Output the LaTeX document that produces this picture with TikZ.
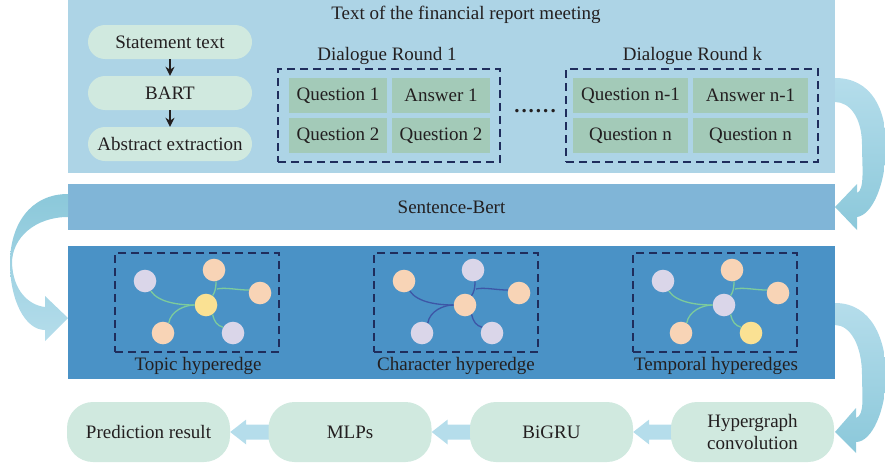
\documentclass[tikz,border=0pt]{standalone}
\usepackage{fontspec}
\setmainfont{Liberation Serif}
\usetikzlibrary{arrows.meta,calc}
\pgfdeclarelayer{bg}
\pgfsetlayers{bg,main}
\definecolor{panelc}{HTML}{ADD4E6}
\definecolor{pillc}{HTML}{D0E9DF}
\definecolor{cellc}{HTML}{A3CAB8}
\definecolor{sbc}{HTML}{80B5D7}
\definecolor{hpc}{HTML}{4A92C6}
\definecolor{dashc}{HTML}{1F2D5C}
\definecolor{purp}{HTML}{DAD6E9}
\definecolor{oran}{HTML}{F8D4B6}
\definecolor{yell}{HTML}{FAE193}
\definecolor{gedge}{HTML}{7DCB9C}
\definecolor{bedge}{HTML}{3D56A6}
\definecolor{arrl}{HTML}{B5DDEB}
\definecolor{arrd}{HTML}{8BC8DA}
\definecolor{txt}{HTML}{231F20}
\newcommand\hgcluster[9]{%
 \begin{scope}[xshift=#1pt]
 \node[vtx,fill=#3] (#2a) at (145,281) {};
 \node[vtx,fill=#4] (#2b) at (214,270) {};
 \node[vtx,fill=#5] (#2c) at (260,293) {};
 \node[vtx,fill=#6] (#2m) at (206,305) {};
 \node[vtx,fill=#7] (#2d) at (163,333) {};
 \node[vtx,fill=#8] (#2e) at (233,333) {};
 \coordinate (#2j) at (217,289);
 \draw[hedge,draw=#9] (#2a.-60) .. controls +(8,12) and +(-14,0) .. (#2m.west);
 \draw[hedge,draw=#9] (#2d.60) .. controls +(2,-12) and +(-10,0) .. (#2m.west);
 \draw[hedge,draw=#9] (#2b.-80) .. controls +(0,8) and +(2,-3) .. (#2m.55);
 \draw[hedge,draw=#9] (#2j) .. controls +(8,-2) and +(-12,0) .. (#2c.165);
 \draw[hedge,draw=#9] (#2m.-55) .. controls +(2,8) and +(-6,-2) .. (#2e.150);
 \end{scope}}
\newcommand\blockarr[2]{%
 \fill[arrl] (#1.east) -- ([shift={(16,-12.5)}]#1.east) -- ([shift={(16,-7.5)}]#1.east)
   -- ([shift={(3,-7.5)}]#2.west) -- ([shift={(3,7.5)}]#2.west)
   -- ([shift={(16,7.5)}]#1.east) -- ([shift={(16,12.5)}]#1.east) -- cycle;}
\begin{document}
\begin{tikzpicture}[x=1pt,y=-1pt,
  font=\fontsize{19}{22}\selectfont, text=txt,
  wide/.style={minimum width=767pt, inner sep=0},
  pill/.style={fill=pillc, rounded corners=17pt, minimum width=164pt, minimum height=34pt, inner sep=0},
  cell/.style={fill=cellc, minimum height=35pt, inner sep=0},
  dbox/.style={draw=dashc, line width=1.6pt, dash pattern=on 8pt off 5pt, inner sep=0},
  vtx/.style={circle, minimum size=22.6pt, inner sep=0},
  hedge/.style={line width=1.3pt},
  smallarr/.style={line width=1.4pt, draw=txt, -{Stealth[length=9pt,width=9pt]}},
  bpill/.style={fill=pillc, rounded corners=26pt, minimum width=163pt, minimum height=60pt, inner sep=0, align=center}]
\useasboundingbox (0,0) rectangle (885,463);
% panels
\node[wide, fill=panelc, minimum height=173pt] (top) at (451.5,86.5) {};
\node[wide, fill=sbc, minimum height=46pt] (sb) at (451.5,207) {Sentence-Bert};
\node[wide, fill=hpc, minimum height=133pt] (hp) at (451.5,312.5) {};
% top panel content
\node (title) at (466,15) {Text of the financial report meeting};
\node[pill] (st) at (170,42) {Statement text};
\node[pill] (bart) at (170,93) {BART};
\node[pill] (abs) at (170,144) {Abstract extraction};
\draw[smallarr] (st.south) -- (bart.north);
\draw[smallarr] (bart.south) -- (abs.north);
\node (dr1) at (387,56) {Dialogue Round 1};
\node (drk) at (692.5,56) {Dialogue Round k};
\node[dbox, minimum width=222pt, minimum height=93pt] (d1) at (389,115.5) {};
\node[dbox, minimum width=252pt, minimum height=93pt] (dk) at (692,115.5) {};
\node[cell, minimum width=98pt] (q1) at (338,95.5) {Question 1};
\node[cell, minimum width=98pt] (a1) at (441,95.5) {Answer 1};
\node[cell, minimum width=98pt] (q2) at (338,135.5) {Question 2};
\node[cell, minimum width=98pt] (q2b) at (441,135.5) {Question 2};
\node[cell, minimum width=115pt] (qn1) at (630.5,95.5) {Question n-1};
\node[cell, minimum width=115pt] (an1) at (750.5,95.5) {Answer n-1};
\node[cell, minimum width=115pt] (qn) at (630.5,135.5) {Question n};
\node[cell, minimum width=115pt] (qnb) at (750.5,135.5) {Question n};
\node[inner sep=0, font=\fontsize{21}{22}\selectfont\bfseries] (dots) at (535,111) {.\kern2pt.\kern2pt.\kern2pt.\kern2pt.\kern2pt.};
% hypergraph panel
\node[dbox, minimum width=164pt, minimum height=99pt] (hb1) at (197,302.5) {};
\node[dbox, minimum width=164pt, minimum height=99pt] (hb2) at (456,302.5) {};
\node[dbox, minimum width=164pt, minimum height=99pt] (hb3) at (715,302.5) {};
\hgcluster{0}{t}{purp}{oran}{oran}{yell}{oran}{purp}{gedge}
\hgcluster{259}{c}{oran}{purp}{oran}{oran}{purp}{purp}{bedge}
\hgcluster{518}{p}{purp}{oran}{oran}{purp}{oran}{yell}{gedge}
\node (l1) at (198,366) {Topic hyperedge};
\node (l2) at (456,366) {Character hyperedge};
\node (l3) at (716,366) {Temporal hyperedges};
% bottom row
\node[bpill] (pred) at (148.5,432) {Prediction result};
\node[bpill] (mlp) at (350,432) {MLPs};
\node[bpill] (gru) at (551.5,432) {BiGRU};
\node[bpill] (hgc) at (752.5,432) {Hypergraph\\convolution};
\begin{pgfonlayer}{bg}
\blockarr{pred}{mlp}
\blockarr{mlp}{gru}
\blockarr{gru}{hgc}
\end{pgfonlayer}
% big curved arrows
\shade[top color=arrl, bottom color=arrd] (835,78) .. controls (872,78) and (886,110) .. (886,145)
  .. controls (886,185) and (872,215) .. (857,217) -- (857,230) -- (835,207) -- (857,184) -- (857,193)
  .. controls (865,190) and (862,165) .. (862,145) .. controls (862,118) and (850,102) .. (835,102) -- cycle;
\shade[top color=arrd, bottom color=arrl] (68,194) .. controls (30,194) and (10,225) .. (10,263)
  .. controls (10,300) and (25,330) .. (45,330) -- (45,341) -- (68,318) -- (45,296) -- (45,307)
  .. controls (28,305) and (13,290) .. (12,263) .. controls (12,238) and (35,217) .. (68,217) -- cycle;
\shade[top color=arrl, bottom color=arrd] (835,303) .. controls (872,303) and (886,340) .. (886,375)
  .. controls (886,410) and (872,442) .. (856,442) -- (856,453) -- (835,432) -- (856,408) -- (856,418)
  .. controls (865,415) and (862,395) .. (862,375) .. controls (862,345) and (850,325) .. (835,325) -- cycle;
\end{tikzpicture}
\end{document}
